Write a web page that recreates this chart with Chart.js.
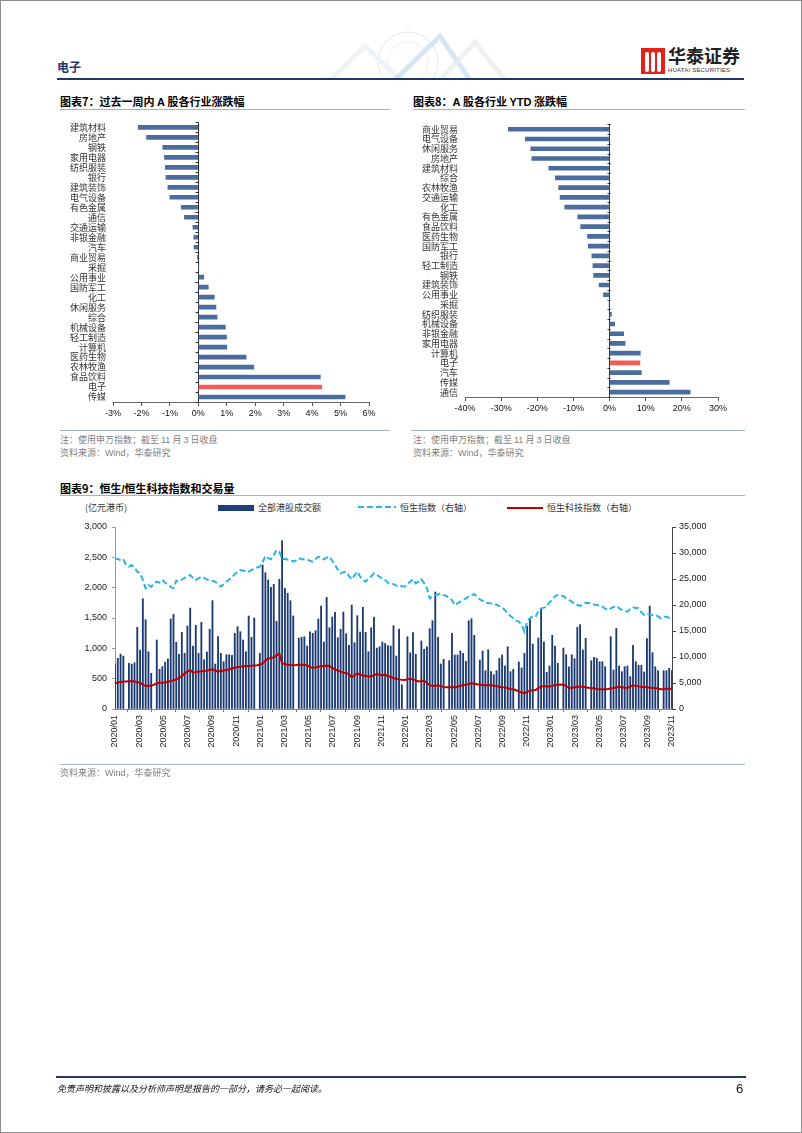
<!DOCTYPE html>
<html>
<head>
<meta charset="utf-8">
<script src="https://cdn.jsdelivr.net/npm/chart.js@4/dist/chart.umd.min.js"></script>
<style>
  html, body { margin: 0; padding: 0; background: #fff; }
  #page { position: relative; width: 802px; height: 1133px; overflow: hidden;
          font-family: "Noto Sans CJK SC", "Liberation Sans", sans-serif; }
  .abs { position: absolute; white-space: nowrap; }
  .title { font-size: 11px; font-weight: bold; color: #000; line-height: 12px; }
  .rule { position: absolute; height: 1px; background: #a3b3c9; }
  .note { font-size: 9px; color: #808080; line-height: 11px; }
  .num { font-family: "Liberation Sans", Arial, sans-serif; }
  .leg { font-size: 9px; color: #333; line-height: 11px; }
  canvas { position: absolute; }
  #frame { position: absolute; left: 0; top: 0; width: 800px; height: 1131px; border: 1px solid #8c8c8c; }
</style>
</head>
<body>
<div id="page">
  <!-- header -->
  <svg class="abs" style="left:290px;top:28px" width="260" height="52" opacity="0.6">
    <circle cx="118" cy="34" r="30" fill="none" stroke="#d6d9de" stroke-width="1"/>
    <circle cx="118" cy="34" r="20" fill="none" stroke="#e2e5ea" stroke-width="1"/>
    <polyline points="40,52 75,18 110,52" fill="none" stroke="#e6ecf3" stroke-width="5"/>
    <polyline points="105,52 150,8 180,52" fill="none" stroke="#9fc4e8" stroke-width="5" opacity="0.7"/>
    <polyline points="150,52 185,14 215,52" fill="none" stroke="#dde1e6" stroke-width="5" opacity="0.8"/>
  </svg>
  <div class="abs" style="left:57px;top:58px;font-size:12px;font-weight:bold;color:#1f3a6e">电子</div>
  <div class="abs" style="left:57px;top:78px;width:687px;height:2px;background:#1f3864"></div>
  <div class="abs" style="left:641px;top:48px;width:24px;height:26px;background:#e2231a"></div>
  <div class="abs" style="left:645px;top:52px;width:4px;height:20px;background:#fff;border-radius:2px"></div>
  <div class="abs" style="left:651px;top:52px;width:4px;height:20px;background:#fff;border-radius:2px"></div>
  <div class="abs" style="left:657px;top:52px;width:4px;height:20px;background:#fff;border-radius:2px"></div>
  <div class="abs" style="left:668px;top:44px;font-size:18px;font-weight:bold;color:#222;line-height:22px">华泰证券</div>
  <div class="abs num" style="left:668px;top:67px;font-size:6px;color:#333;letter-spacing:0.2px">HUATAI SECURITIES</div>

  <!-- chart 7 -->
  <div class="abs title" style="left:60px;top:95px">图表7：过去一周内 <span class="num">A</span> 股各行业涨跌幅</div>
  <div class="rule" style="left:60px;top:109px;width:330px"></div>
  <canvas id="weekChart" width="330" height="315" style="left:60px;top:110px"></canvas>
  <div class="rule" style="left:60px;top:430px;width:330px"></div>
  <div class="abs note" style="left:60px;top:434px">注：使用申万指数；截至 <span class="num">11</span> 月 <span class="num">3</span> 日收盘</div>
  <div class="abs note" style="left:60px;top:447px">资料来源：<span class="num">Wind</span>，华泰研究</div>

  <!-- chart 8 -->
  <div class="abs title" style="left:413px;top:95px">图表8：<span class="num">A</span> 股各行业 <span class="num">YTD</span> 涨跌幅</div>
  <div class="rule" style="left:413px;top:109px;width:332px"></div>
  <canvas id="ytdChart" width="340" height="310" style="left:405px;top:112px"></canvas>
  <div class="rule" style="left:411px;top:430px;width:334px"></div>
  <div class="abs note" style="left:413px;top:434px">注：使用申万指数；截至 <span class="num">11</span> 月 <span class="num">3</span> 日收盘</div>
  <div class="abs note" style="left:413px;top:447px">资料来源：<span class="num">Wind</span>，华泰研究</div>

  <!-- chart 9 -->
  <div class="abs title" style="left:60px;top:482px">图表9：恒生<span class="num">/</span>恒生科技指数和交易量</div>
  <div class="rule" style="left:60px;top:495px;width:685px"></div>
  <div class="abs leg" style="left:85px;top:502px">(亿元港币)</div>
  <div class="abs" style="left:218px;top:505px;width:36px;height:6px;background:#1f3f78"></div>
  <div class="abs leg" style="left:258px;top:502px">全部港股成交额</div>
  <svg class="abs" style="left:358px;top:504px" width="38" height="6">
    <line x1="0" y1="3" x2="38" y2="3" stroke="#2eb3e6" stroke-width="2" stroke-dasharray="6 3"/>
  </svg>
  <div class="abs leg" style="left:400px;top:502px">恒生指数（右轴）</div>
  <div class="abs" style="left:507px;top:507px;width:36px;height:2px;background:#c00000"></div>
  <div class="abs leg" style="left:547px;top:502px">恒生科技指数（右轴）</div>
  <canvas id="hkChart" width="685" height="250" style="left:60px;top:515px"></canvas>
  <div class="rule" style="left:60px;top:764px;width:685px"></div>
  <div class="abs note" style="left:60px;top:767px">资料来源：<span class="num">Wind</span>，华泰研究</div>

  <!-- footer -->
  <div class="abs" style="left:56px;top:1076px;width:690px;height:2px;background:#1f3864"></div>
  <div class="abs" style="left:57px;top:1083px;font-size:9px;font-style:italic;color:#111;line-height:12px">免责声明和披露以及分析师声明是报告的一部分，请务必一起阅读。</div>
  <div class="abs num" style="left:736px;top:1081px;font-size:13px;color:#111">6</div>
  <div id="frame"></div>
</div>

<script>
// ---- data -----------------------------------------------------------------
// weekly change by industry (%)
const WEEK_CATS = ['建筑材料', '房地产', '钢铁', '家用电器', '纺织服装', '银行', '建筑装饰',
  '电气设备', '有色金属', '通信', '交通运输', '非银金融', '汽车', '商业贸易', '采掘', '公用事业',
  '国防军工', '化工', '休闲服务', '综合', '机械设备', '轻工制造', '计算机', '医药生物', '农林牧渔',
  '食品饮料', '电子', '传媒'];
const WEEK_CHG = [-2.11, -1.82, -1.25, -1.19, -1.16, -1.14, -1.07, -1.00, -0.60, -0.49, -0.19,
  -0.16, -0.15, -0.03, 0.01, 0.19, 0.35, 0.56, 0.62, 0.66, 0.95, 0.99, 1.00, 1.68, 1.95, 4.29,
  4.34, 5.16];

// YTD change by industry (%)
const YTD_CATS = ['商业贸易', '电气设备', '休闲服务', '房地产', '建筑材料', '综合', '农林牧渔',
  '交通运输', '化工', '有色金属', '食品饮料', '医药生物', '国防军工', '银行', '轻工制造', '钢铁',
  '建筑装饰', '公用事业', '采掘', '纺织服装', '机械设备', '非银金融', '家用电器', '计算机', '电子',
  '汽车', '传媒', '通信'];
const YTD_CHG = [-28.0, -23.3, -21.8, -21.5, -16.8, -15.0, -14.1, -13.7, -12.4, -8.8, -8.0,
  -6.1, -5.9, -4.9, -4.6, -4.4, -2.9, -1.7, -0.1, 0.5, 1.4, 3.9, 4.3, 8.5, 8.4, 8.8, 16.5, 22.3];

// weekly series, first week of 2020/01 to first week of 2023/11 (201 weeks)
const TURNOVER = [ // 亿元港币, null = no bar that week
  742, 835, 906, 873, null, 752, 741, 763, 1346, 972,
  1818, 1472, 944, 588, null, 1137, 654, 700, 773, 824,
  1483, 1560, 1099, 901, 1263, 917, 1368, 1664, 1038, 1379,
  917, 1428, 813, 939, 1313, 1785, 741, 1192, 917, 780,
  895, 895, 884, 1247, 1357, 1274, 1137, 944, 1533, 1181,
  1500, null, 917, 2373, 2247, 2126, 2005, 2055, 1445, 2137,
  2774, 1989, 1907, 1785, 1533, null, 1170, 1181, 1192, 1038,
  1274, 1247, 1291, 1483, 1697, 1104, 1840, 1340, 1516, 1593,
  1175, 1313, 1599, 1241, 1049, 1714, 1093, 1538, 1269, 1676,
  1263, 944, 1340, 1511, 1005, 1027, 1104, 1080, 1045, 1038,
  1373, 873, 1318, 400, null, 1192, 928, 1258, 901, null,
  1121, 984, 1027, 1324, 1455, 1928, 1181, 742, 818, null,
  797, 1247, 890, 890, 956, 917, 786, 1455, 1489, 1214,
  null, 808, 956, 632, 978, 615, 566, 632, 835, 890,
  709, 1027, 615, 654, null, 775, 676, 917, 1368, 1478,
  1071, null, 1170, 1643, 1104, 604, 709, 1214, 1038, 753,
  null, 1005, 895, 697, 895, 829, 1346, 1390, 972, 1165,
  null, 797, 851, 835, 780, 780, 697, null, 1192, 643,
  1329, 709, 615, 697, 709, 533, 1049, 780, 719, 719,
  610, 1159, 1697, 928, 697, 632, null, 632, 632, 670,
  632];

const HSI = [
  28790, 28900, 28600, 28790, 27690, 27400, 27690, 27200, 26400, 26100,
  24810, 23210, 23850, 23500, 24200, 24480, 24300, 24810, 24300, 23850,
  23500, 23210, 24670, 24500, 24900, 25200, 25500, 25770, 25200, 24810,
  25100, 25440, 25200, 24900, 24810, 24600, 24480, 24000, 23530, 24000,
  24480, 24900, 25340, 25900, 26300, 26730, 26600, 26600, 26400, 26730,
  27000, 27200, 27370, 28200, 29420, 29000, 28790, 29600, 30580, 30250,
  28790, 28900, 28700, 28660, 28340, 28600, 29000, 28800, 28790, 28790,
  28500, 28340, 28800, 29300, 29000, 28790, 29100, 29300, 28500, 27690,
  26800, 26090, 26300, 26410, 25600, 24940, 25700, 26410, 25500, 24800,
  24480, 25130, 25500, 26090, 25800, 25450, 25000, 24800, 24300, 24300,
  24000, 23700, 23850, 23600, 23530, 24000, 24490, 24940, 24170, 24500,
  24940, 24200, 23210, 21280, 21700, 21920, 22000, 22240, 21900, 21730,
  21300, 20960, 20000, 20300, 20640, 20900, 21280, 21600, 21800, 22110,
  21600, 21090, 20800, 20450, 20400, 20320, 20000, 20100, 19800, 19550,
  19000, 18400, 17900, 17440, 17000, 16800, 16150, 14870, 16800, 17500,
  17760, 17700, 18800, 19360, 19500, 19680, 20500, 20960, 21700, 21920,
  21800, 21730, 21280, 21000, 20640, 20200, 20000, 19810, 20100, 20450,
  20400, 20320, 20100, 20000, 19800, 19680, 19300, 19040, 19360, 19600,
  19810, 19400, 19040, 18800, 18720, 19200, 19550, 19400, 19360, 18600,
  18080, 18270, 18200, 18080, 18080, 17800, 17440, 17600, 17760, 17500,
  17440];

const HSTECH = [
  4940, 5100, 5200, 5250, 5300, 5350, 5380, 5300, 5150, 5060,
  4700, 4420, 4480, 4450, 4700, 4940, 5000, 5060, 5100, 5250,
  5400, 5500, 5700, 6000, 6350, 6800, 7200, 7500, 6990, 7100,
  7180, 7250, 7300, 7380, 7500, 7630, 7400, 7180, 7300, 7400,
  7500, 7650, 7820, 7950, 8050, 8140, 8200, 8250, 8270, 8300,
  8350, 8400, 8500, 8780, 9300, 9740, 9800, 9930, 10300, 10700,
  8780, 8650, 8530, 8450, 8400, 8450, 8530, 8500, 8450, 8400,
  8100, 7880, 8000, 8140, 8200, 8270, 8300, 8270, 7900, 7630,
  7400, 7180, 7000, 6900, 6730, 6090, 6500, 6860, 6600, 6450,
  6350, 6300, 6220, 6500, 6730, 6600, 6480, 6600, 6300, 6200,
  5900, 5800, 5700, 5600, 5570, 5700, 5830, 5700, 5500, 5310,
  5400, 5440, 5000, 4600, 4420, 4480, 4550, 4400, 4250, 4160,
  4160, 4160, 4200, 4290, 4450, 4600, 4680, 4800, 4940, 4850,
  4750, 4680, 4600, 4550, 4550, 4550, 4500, 4400, 4290, 4200,
  4160, 4000, 3850, 3780, 3600, 3400, 3200, 3010, 3300, 3530,
  3600, 3650, 4000, 4300, 4420, 4350, 4290, 4450, 4600, 4680,
  4700, 4680, 4400, 4100, 4040, 4200, 4290, 4300, 4290, 4200,
  4100, 4040, 3950, 3850, 3780, 3780, 3780, 3850, 3950, 4040,
  4150, 4290, 4200, 4100, 4040, 4300, 4550, 4450, 4350, 4290,
  4200, 4160, 4100, 4050, 4040, 3900, 3780, 3820, 3910, 3900,
  3910];

// bimonthly tick labels, evenly spread over the weekly index
const TICK_LABELS = ['2020/01', '2020/03', '2020/05', '2020/07', '2020/09', '2020/11',
  '2021/01', '2021/03', '2021/05', '2021/07', '2021/09', '2021/11',
  '2022/01', '2022/03', '2022/05', '2022/07', '2022/09', '2022/11',
  '2023/01', '2023/03', '2023/05', '2023/07', '2023/09', '2023/11'];

// ---- styles ---------------------------------------------------------------
const CJK = '"Noto Sans CJK SC", sans-serif';
const ARIAL = '"Liberation Sans", Arial, sans-serif';
const BLUE = '#4a6c9e';
const RED = '#f25c58';

// little marks on the zero line between categories
const zeroTicks = {
  id: 'zeroTicks',
  afterDatasetsDraw(chart) {
    const { ctx, scales: { x, y } } = chart;
    const x0 = Math.round(x.getPixelForValue(0)) + 0.5;
    const n = chart.data.labels.length;
    const step = (y.bottom - y.top) / n;
    ctx.save();
    ctx.strokeStyle = '#333';
    ctx.lineWidth = 1;
    ctx.beginPath();
    for (let i = 0; i <= n; i++) {
      const yy = Math.round(y.top + i * step) + 0.5;
      ctx.moveTo(x0 - 3, yy);
      ctx.lineTo(x0, yy);
    }
    ctx.stroke();
    ctx.restore();
  },
};

function industryChart(id, cats, vals, opts) {
  return new Chart(document.getElementById(id), {
    type: 'bar',
    data: {
      labels: cats,
      datasets: [{
        data: vals,
        backgroundColor: cats.map((c) => (c === '电子' ? RED : BLUE)),
        barThickness: 4,
      }],
    },
    options: {
      indexAxis: 'y',
      responsive: false,
      animation: false,
      events: [],
      layout: { padding: opts.padding },
      plugins: { legend: { display: false }, tooltip: { enabled: false } },
      scales: {
        x: {
          min: opts.min,
          max: opts.max,
          afterFit: (s) => { s.height = opts.xHeight; },
          ticks: {
            stepSize: opts.step,
            callback: (v) => v + '%',
            font: { family: ARIAL, size: 9 },
            color: '#111',
            padding: 2,
            maxRotation: 0,
          },
          grid: {
            color: (c) => (c.tick && c.tick.value === 0 ? '#333' : 'rgba(0,0,0,0)'),
            tickColor: '#555',
            tickLength: 4,
          },
          border: { color: '#666' },
        },
        y: {
          afterFit: (s) => { s.width = opts.yWidth; },
          grid: { display: false, drawTicks: false },
          border: { display: false },
          ticks: { font: { family: CJK, size: 9 }, color: '#333', padding: 7, autoSkip: false },
        },
      },
    },
    plugins: [zeroTicks],
  });
}

industryChart('weekChart', WEEK_CATS, WEEK_CHG, {
  min: -3, max: 6, step: 1, yWidth: 53, xHeight: 23,
  padding: { left: 0, top: 8, right: 21, bottom: 0 },
});

industryChart('ytdChart', YTD_CATS, YTD_CHG, {
  min: -40, max: 30, step: 10, yWidth: 60, xHeight: 25,
  padding: { left: 0, top: 11, right: 27, bottom: 0 },
});

// ---- HK turnover + indices -----------------------------------------------
const last = TURNOVER.length - 1;
const pts = (arr) => arr.map((v, i) => ({ x: i, y: v }));

new Chart(document.getElementById('hkChart'), {
  type: 'bar',
  data: {
    datasets: [
      {
        type: 'line', data: pts(HSI), yAxisID: 'y1', order: 1,
        borderColor: '#2eb3e6', borderWidth: 2, borderDash: [6, 3],
        pointRadius: 0, tension: 0,
      },
      {
        type: 'line', data: pts(HSTECH), yAxisID: 'y1', order: 1,
        borderColor: '#c00000', borderWidth: 2,
        pointRadius: 0, tension: 0,
      },
      {
        type: 'bar', data: pts(TURNOVER), yAxisID: 'y', order: 2,
        backgroundColor: '#1d3b73', barThickness: 1.2, grouped: false,
      },
    ],
  },
  options: {
    responsive: false,
    animation: false,
    events: [],
    layout: { padding: { left: 0, top: 12, right: 0, bottom: 0 } },
    plugins: { legend: { display: false }, tooltip: { enabled: false } },
    scales: {
      x: {
        type: 'linear',
        min: 0,
        max: last,
        offset: false,
        afterFit: (s) => { s.height = 56; },
        afterBuildTicks: (s) => {
          s.ticks = TICK_LABELS.map((_, k) => ({ value: (k * last) / (TICK_LABELS.length - 1) }));
        },
        ticks: {
          autoSkip: false,
          minRotation: 90,
          maxRotation: 90,
          padding: 3,
          font: { family: ARIAL, size: 9 },
          color: '#222',
          callback: (v, k) => TICK_LABELS[k],
        },
        grid: { drawOnChartArea: false, tickLength: 3, color: '#777' },
        border: { color: '#888' },
      },
      y: {
        position: 'left',
        min: 0,
        max: 3000,
        afterFit: (s) => { s.width = 55; },
        ticks: {
          stepSize: 500,
          padding: 5,
          font: { family: ARIAL, size: 9 },
          color: '#222',
          callback: (v) => v.toLocaleString('en-US'),
        },
        grid: { drawOnChartArea: false, tickLength: 3, color: '#999' },
        border: { color: '#999' },
      },
      y1: {
        position: 'right',
        min: 0,
        max: 35000,
        afterFit: (s) => { s.width = 73; },
        ticks: {
          stepSize: 5000,
          padding: 3,
          font: { family: ARIAL, size: 9 },
          color: '#222',
          callback: (v) => v.toLocaleString('en-US'),
        },
        grid: { drawOnChartArea: false, tickLength: 4, color: '#444' },
        border: { color: '#444' },
      },
    },
  },
});
</script>
</body>
</html>
